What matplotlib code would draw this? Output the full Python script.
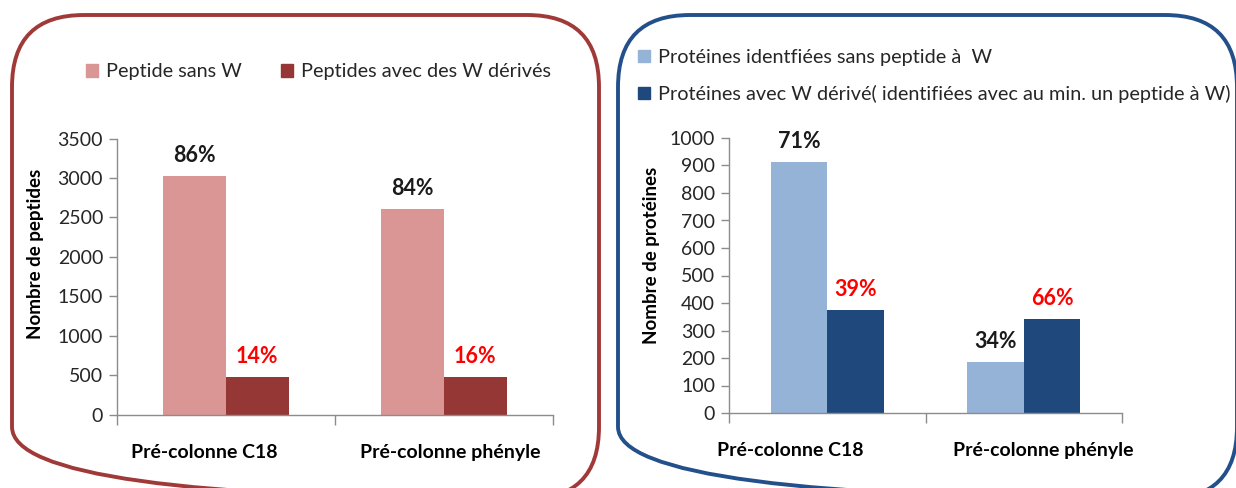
import matplotlib
matplotlib.use("Agg")
import matplotlib.pyplot as plt
from matplotlib.patches import FancyBboxPatch, Patch
import numpy as np

plt.rcParams['font.family'] = ['Lato', 'DejaVu Sans']

categories = ["Pré-colonne C18", "Pré-colonne phényle"]

# peptides
pep_sans_w = [3025, 2605]
pep_avec_w = [478, 478]
pep_pct_sans = ["86%", "84%"]
pep_pct_avec = ["14%", "16%"]
pep_legend = ["Peptide sans W", "Peptides avec des W dérivés"]

# protéines
prot_sans_w = [912, 185]
prot_avec_w = [375, 342]
prot_pct_sans = ["71%", "34%"]
prot_pct_avec = ["39%", "66%"]
prot_legend = ["Protéines identfiées sans peptide à  W",
               "Protéines avec W dérivé( identifiées avec au min. un peptide à W)"]

W, H = 1236, 488
fig = plt.figure(figsize=(W / 100, H / 100), dpi=100)

# background layer in pixel units for the rounded frames
bg = fig.add_axes([0, 0, 1, 1])
bg.set_xlim(0, W)
bg.set_ylim(H, 0)
bg.axis('off')
bg.add_patch(FancyBboxPatch((12, 15), 587, 484, boxstyle="round,pad=0,rounding_size=72",
                            fill=False, ec='#a03a38', lw=2.8))
bg.add_patch(FancyBboxPatch((618, 15), 619, 484, boxstyle="round,pad=0,rounding_size=72",
                            fill=False, ec='#23508a', lw=2.8))


def px_axes(x0, x1, ytop, ybot):
    return fig.add_axes([x0 / W, 1 - ybot / H, (x1 - x0) / W, (ybot - ytop) / H])


def style_axes(ax, ymax, ystep, label_pos, ylabel, ylabel_xy):
    ax.patch.set_alpha(0)
    for s in ['top', 'right']:
        ax.spines[s].set_visible(False)
    for s in ['left', 'bottom']:
        ax.spines[s].set_color('#8c8c8c')
        ax.spines[s].set_linewidth(1.0)
    ax.set_xlim(-0.5, 1.5)
    ax.set_ylim(0, ymax)
    ax.set_yticks(np.arange(0, ymax + 1, ystep))
    ax.tick_params(axis='y', length=6, width=1, color='#8c8c8c', labelsize=14,
                   labelcolor='#262626', pad=4)
    ax.set_xticks([-0.5, 0.5, 1.5])
    ax.set_xticklabels([])
    ax.tick_params(axis='x', which='major', length=7, width=1, color='#8c8c8c')
    ax.set_xticks(label_pos, minor=True)
    ax.set_xticklabels(categories, minor=True, fontsize=14, fontweight='bold')
    ax.tick_params(axis='x', which='minor', length=0, pad=21)
    ax.set_ylabel(ylabel, fontsize=13.5, fontweight='bold')
    ax.yaxis.set_label_coords(*ylabel_xy)


def draw_bars(ax, a, b, ca, cb, pa, pb, bw):
    x = np.arange(len(categories))
    ba = ax.bar(x - bw / 2, a, bw, color=ca)
    bb = ax.bar(x + bw / 2, b, bw, color=cb)
    for r, t in zip(ba, pa):
        ax.annotate(t, (r.get_x() + r.get_width() / 2, r.get_height()), xytext=(0, 7),
                    textcoords='offset points', ha='center', va='bottom',
                    fontsize=15.5, fontweight='bold', color='#1a1a1a')
    for r, t in zip(bb, pb):
        ax.annotate(t, (r.get_x() + r.get_width() / 2, r.get_height()), xytext=(0, 7),
                    textcoords='offset points', ha='center', va='bottom',
                    fontsize=15.5, fontweight='bold', color='#ff0000')


# left chart
ax1 = px_axes(117, 553, 138.5, 414.7)
draw_bars(ax1, pep_sans_w, pep_avec_w, '#d99694', '#953735',
          pep_pct_sans, pep_pct_avec, 0.287)
style_axes(ax1, 3500, 500, [-0.1, 1.03], "Nombre de peptides", (-0.167, 0.583))
fig.legend(handles=[Patch(color='#d99694'), Patch(color='#953735')], labels=pep_legend,
           loc='center left', bbox_to_anchor=(86 / W, 1 - 72 / H), ncol=2, frameon=False,
           fontsize=14.3, handlelength=0.6, handleheight=0.6, handletextpad=0.4,
           columnspacing=2.0, borderpad=0, borderaxespad=0, labelcolor='#262626')

# right chart
ax2 = px_axes(729, 1122, 138, 413)
draw_bars(ax2, prot_sans_w, prot_avec_w, '#95b3d7', '#1f497d',
          prot_pct_sans, prot_pct_avec, 0.288)
style_axes(ax2, 1000, 100, [-0.19, 1.1], "Nombre de protéines", (-0.175, 0.575))
fig.legend(handles=[Patch(color='#95b3d7'), Patch(color='#1f497d')], labels=prot_legend,
           loc='upper left', bbox_to_anchor=(638 / W, 1 - 49 / H), ncol=1, frameon=False,
           fontsize=14.3, handlelength=0.6, handleheight=0.6, handletextpad=0.4,
           labelspacing=0.95, borderpad=0, borderaxespad=0, labelcolor='#262626')

fig.savefig("out.png", dpi=100)
